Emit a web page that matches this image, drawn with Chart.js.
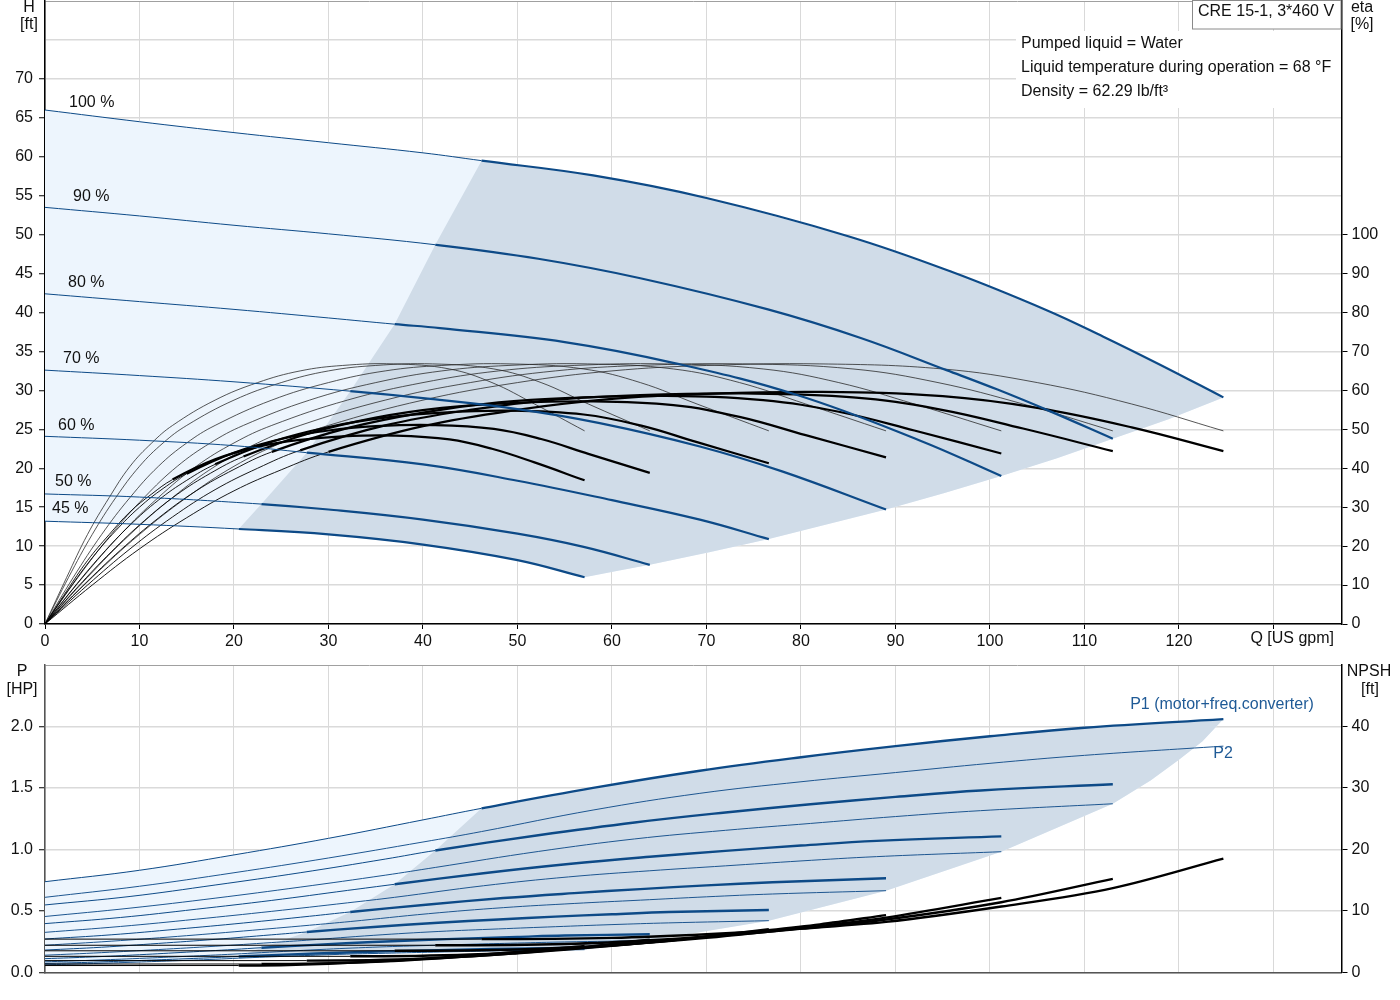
<!DOCTYPE html>
<html>
<head>
<meta charset="utf-8">
<script src="https://cdn.jsdelivr.net/npm/chart.js@4/dist/chart.umd.min.js"></script>
<style>
  body { margin: 0; background: #fff; width: 1400px; height: 1000px; overflow: hidden; position: relative; }
  canvas { position: absolute; left: 0; }
  #top { top: 0; width: 1400px; height: 650px; }
  #bot { top: 650px; width: 1400px; height: 350px; }
</style>
</head>
<body>
<canvas id="top" width="1400" height="650"></canvas>
<canvas id="bot" width="1400" height="350"></canvas>
<script>
// speed curves, 100 % down to 45 %
const speedLabels = ['100 %', '90 %', '80 %', '70 %', '60 %', '50 %', '45 %'];
// flow where each speed curve enters the dark operating area
const qEnter = [46.2, 41.3, 37, 32.3, 27.7, 22.9, 20.5];

// QH curves [Q gpm, H ft]
const qh100 = [[0,66],[10,64.5],[20,63.1],[30,61.8],[40,60.5],[46.2,59.5],[58,57.6],[70,54.7],[85,49.8],[96,45.2],[106,40.3],[112,36.9],[118,33.3],[124.7,29.1]];
const qh90 = [[0,53.5],[10,52.4],[20,51.2],[30,50.1],[41.3,48.7],[52.2,46.9],[63,44.4],[76.5,40.4],[86.4,36.7],[95.4,32.6],[100.8,30.1],[106.2,27.4],[113,23.8]];
const qh80 = [[0,42.4],[10,41.4],[20,40.4],[30,39.3],[37,38.5],[41.8,38],[55,36.2],[66.6,33.5],[79.6,29.4],[92.5,23.6],[101.2,19.0]];
const qh70 = [[0,32.6],[10,31.9],[20,31.1],[32.3,29.9],[40,29],[50,27.6],[58.7,25.8],[69.3,22.8],[78,19.6],[89,14.7]];
const qh60 = [[0,24.1],[10,23.6],[20,22.9],[27.7,22.0],[40,20.5],[50,18.4],[60,15.9],[69.3,13.4],[76.6,10.9]];
const qh50 = [[0,16.7],[10,16.3],[22.9,15.4],[30,14.7],[40,13.4],[50,11.6],[57,9.9],[64,7.6]];
const qh45 = [[0,13.2],[10,12.8],[20.5,12.2],[30,11.5],[40,10.2],[50,8.2],[57.1,6.0]];

// edges of the operating area in the QH panel
const limitLeftH = [[20.5,12.2],[22.9,15.4],[27.7,22.0],[32.3,29.9],[37,38.5],[41.3,48.7],[46.2,59.5]];
const limitRightH = [[57.1,6.0],[60.5,6.8],[64,7.6],[70.3,9.2],[76.6,10.9],[82.8,12.8],[89,14.7],[95.1,16.8],[101.2,19.0],[107.1,21.3],[113,23.8],[118.9,26.3],[124.7,29.1]];

// efficiency curves, Q points per speed
const qEta100 = [0,5,10,15,20,25,30,40,50,60,70,82,95,105,115,124.7];
const qEta90 = [0,4.5,9,13.5,18,22.5,27,36,45,54,63,73.8,85.5,94.5,103.5,113];
const qEta80 = [0,4,8,12,16,20,24,32,40,48,56,65.6,76,84,92,101.2];
const qEta70 = [0,3.5,7,10.5,14,17.5,21,28,35,42,49,57.4,66.5,73.5,80.5,89];
const qEta60 = [0,3,6,9,12,15,18,24,30,36,42,49.2,57,63,69,76.6];
const qEta50 = [0,2.5,5,7.5,10,12.5,15,20,25,30,35,41,47.5,52.5,57.5,64];
const qEta45 = [0,2.3,4.5,6.8,9,11.3,13.5,18,22.5,27,31.5,36.9,42.8,47.3,51.8,57.1];
// pump efficiency [%] (thin)
const etaPump = [0,12,23,32.5,40.5,46.5,51,57.5,62,65,66.4,66.8,65.5,62,56.5,49.6];
// total efficiency [%] (thick)
const etaTot100 = [0,10,19.3,27.3,34.2,39.6,44.2,50.8,55,57.8,59.1,59.6,58.5,55.5,50.5,44.4];
const etaTot90 = [0,10,19.3,27.5,34.5,40,44.6,51,55,57.6,58.8,59.2,58.2,55.2,50.2,44.4];
const etaTot80 = [0,9.8,19,27.2,34.2,39.7,44.2,50.3,54.3,56.9,58.1,58.6,57.5,54.5,49.7,43.8];
const etaTot70 = [0,9.6,18.5,26.5,33.3,38.7,43,49,53,55.5,56.7,57.2,56.2,53.2,48.5,42.8];
const etaTot60 = [0,9.2,17.8,25.4,31.8,36.9,41,46.8,50.6,53,54.3,54.8,53.8,51,46.7,41.3];
const etaTot50 = [0,8.8,17,24,30,34.8,38.6,44,47.5,49.7,50.8,51.1,50.1,47.5,43.7,38.8];
const etaTot45 = [0,8.5,16.3,23,28.8,33.4,37.1,42.3,45.5,47.3,48.2,48.4,47.4,45,41.5,36.9];

// power curves, Q points per speed
const qP100 = [0,10,20,30,40,46.2,58,69.3,80,90,100,110,124.7];
const qP90 = [0,9,18,27,36,41.3,52.2,62.4,72,81,90,99,113];
const qP80 = [0,8,16,24,32,37,46.4,55.4,64,72,80,88,101.2];
const qP70 = [0,7,14,21,28,32.3,40.6,48.5,56,63,70,77,89];
const qP60 = [0,6,12,18,24,27.7,34.8,41.6,48,54,60,66,76.6];
const qP50 = [0,5,10,15,20,22.9,29,34.7,40,45,50,55,64];
const qP45 = [0,4.5,9,13.5,18,20.5,26.1,31.2,36,40.5,45,49.5,57.1];
// P1 (motor + freq. converter) [HP]
const p1_100 = [0.737,0.83,0.955,1.09,1.24,1.334,1.5,1.64,1.75,1.84,1.92,1.99,2.06];
const p1_90 = [0.548,0.617,0.71,0.81,0.921,0.991,1.115,1.219,1.30,1.367,1.427,1.479,1.53];
const p1_80 = [0.396,0.446,0.513,0.585,0.666,0.716,0.806,0.881,0.94,0.988,1.031,1.069,1.106];
const p1_70 = [0.271,0.305,0.351,0.401,0.456,0.491,0.552,0.604,0.644,0.677,0.707,0.732,0.765];
const p1_60 = [0.181,0.204,0.235,0.268,0.305,0.328,0.369,0.403,0.43,0.453,0.472,0.49,0.507];
const p1_50 = [0.111,0.125,0.143,0.164,0.186,0.2,0.225,0.246,0.263,0.276,0.288,0.299,0.309];
const p1_45 = [0.072,0.081,0.093,0.106,0.12,0.129,0.146,0.159,0.17,0.178,0.186,0.193,0.2];
// P2 (shaft) [HP]
const p2_100 = [0.61,0.70,0.81,0.93,1.06,1.145,1.32,1.456,1.55,1.625,1.70,1.765,1.84];
const p2_90 = [0.454,0.522,0.603,0.693,0.79,0.853,0.983,1.085,1.155,1.211,1.267,1.315,1.371];
const p2_80 = [0.325,0.373,0.432,0.496,0.565,0.61,0.704,0.776,0.826,0.866,0.906,0.941,0.981];
const p2_70 = [0.22,0.253,0.292,0.336,0.383,0.413,0.477,0.526,0.56,0.587,0.614,0.637,0.664];
const p2_60 = [0.139,0.16,0.185,0.212,0.242,0.261,0.301,0.332,0.353,0.371,0.388,0.402,0.42];
const p2_50 = [0.085,0.098,0.113,0.13,0.148,0.16,0.185,0.204,0.217,0.228,0.238,0.247,0.258];
const p2_45 = [0.061,0.07,0.081,0.093,0.106,0.115,0.132,0.146,0.155,0.163,0.17,0.177,0.184];

// NPSH [ft]
const npsh100 = [[0,5.4],[46.2,5.4],[60,5.6],[70,6.2],[80,7.1],[89,8.2],[101.2,10.7],[113,13.7],[124.7,18.5]];
const npsh90 = [[0,4.4],[41.3,4.4],[55,4.6],[65,5.3],[75,6.4],[89,8.6],[101.2,11.4],[113,15.2]];
const npsh80 = [[0,3.5],[37,3.5],[50,3.7],[60,4.4],[70,5.6],[80,7.2],[89,8.9],[101.2,12.1]];
const npsh70 = [[0,2.6],[32.3,2.6],[45,2.9],[55,3.8],[65,5.0],[75,6.6],[82,7.8],[89,9.3]];
const npsh60 = [[0,1.9],[27.7,1.9],[40,2.2],[50,3.1],[60,4.3],[68,5.5],[76.6,7.0]];
const npsh50 = [[0,1.35],[22.9,1.35],[35,1.7],[45,2.6],[55,3.8],[64,5.3]];
const npsh45 = [[0,1.1],[20.5,1.1],[30,1.4],[40,2.2],[50,3.3],[57.1,4.3]];

// edges of the operating area in the power panel
const limitLeftP = [[20.5,0.129],[22.9,0.2],[27.7,0.328],[32.3,0.491],[37,0.716],[41.3,0.991],[46.2,1.334]];
const limitRightP = [[57.1,0.184],[64,0.258],[76.6,0.42],[89,0.664],[101.2,0.981],[113,1.371],[117,1.56],[120,1.73],[122.5,1.88],[124.7,2.06]];

const BLUE = '#0d4a87';
const LIGHT = '#edf5fd';
const DARK = '#d0dce8';
const FONT = '"Liberation Sans", Arial, sans-serif';

Chart.defaults.font.family = FONT;
Chart.defaults.font.size = 16;
Chart.defaults.color = '#111';

const xy = p => ({ x: p[0], y: p[1] });
const zip = (xs, ys) => xs.map((x, i) => [x, ys[i]]);

function poly(points, color, order) {
  return { data: points.map(xy), yAxisID: 'y', fill: 'shape', backgroundColor: color,
    borderWidth: 0, pointRadius: 0, tension: 0, order: order };
}

function curve(points, yAxisID, o) {
  const from = o.from === undefined ? Infinity : o.from;
  const ds = {
    data: points.map(xy), yAxisID: yAxisID, fill: false,
    borderColor: o.color, borderWidth: o.thin, pointRadius: 0,
    tension: 0.4, order: o.order || 1,
    segment: {
      borderWidth: c => points[c.p0DataIndex][0] >= from - 0.01 ? o.thick : o.thin
    }
  };
  if (o.monotone) ds.cubicInterpolationMode = 'monotone';
  return ds;
}

function fixed(size, vertical) {
  return s => {
    if (vertical) { s.width = size; s.paddingTop = 0; s.paddingBottom = 0; }
    else { s.height = size; s.paddingLeft = 0; s.paddingRight = 0; }
  };
}

function text(ctx, str, x, y, align, color) {
  ctx.fillStyle = color || '#111';
  ctx.textAlign = align || 'left';
  ctx.textBaseline = 'middle';
  ctx.fillText(str, x, y);
}

// ---------- top panel: H and eta ----------
const qhCurves = [qh100, qh90, qh80, qh70, qh60, qh50, qh45];
const qEtas = [qEta100, qEta90, qEta80, qEta70, qEta60, qEta50, qEta45];
const etaTots = [etaTot100, etaTot90, etaTot80, etaTot70, etaTot60, etaTot50, etaTot45];

const topSets = [];
topSets.push(poly(qh100.concat(limitRightH.slice().reverse().filter(p => p[0] < 124.7),
  qh45.slice().reverse().filter(p => p[0] < 57.1)), LIGHT, 30));
topSets.push(poly(limitLeftH.concat(qh100.filter(p => p[0] > 46.2),
  limitRightH.slice().reverse().filter(p => p[0] < 124.7),
  qh45.slice().reverse().filter(p => p[0] > 20.5 && p[0] < 57.1)), DARK, 29));
for (let i = 0; i < 7; i++) {
  topSets.push(curve(zip(qEtas[i], etaPump), 'yE', { color: '#2b2b2b', thin: 0.8, thick: 0.8, order: 5 }));
  topSets.push(curve(zip(qEtas[i], etaTots[i]), 'yE', { color: '#000', thin: 0.9, thick: 2.2, from: qEtas[i][6], order: 4 }));
  topSets.push(curve(qhCurves[i], 'y', { color: BLUE, thin: 1, thick: 2.2, from: qEnter[i], order: 2 }));
}

const topLabels = {
  id: 'topLabels',
  afterDraw(chart) {
    const ctx = chart.ctx;
    ctx.save();
    ctx.font = '16px ' + FONT;
    // info box
    ctx.fillStyle = '#fff';
    ctx.fillRect(1016, 31, 1341 - 1016, 77);
    text(ctx, 'Pumped liquid = Water', 1021, 44);
    text(ctx, 'Liquid temperature during operation = 68 °F', 1021, 68);
    text(ctx, 'Density = 62.29 lb/ft³', 1021, 92);
    ctx.fillStyle = '#fff';
    ctx.fillRect(1193, 0, 148, 29);
    ctx.strokeStyle = '#8a8a8a';
    ctx.lineWidth = 1;
    ctx.strokeRect(1192.5, 0.5, 148.5, 28.5);
    text(ctx, 'CRE 15-1, 3*460 V', 1198, 12);
    // axis titles
    text(ctx, 'H', 29, 8, 'center');
    text(ctx, '[ft]', 29, 25, 'center');
    text(ctx, 'eta', 1362, 8, 'center');
    text(ctx, '[%]', 1362, 25, 'center');
    text(ctx, 'Q [US gpm]', 1334, 639, 'right');
    // speed labels
    const pos = [[69, 103], [73, 197], [68, 283], [63, 359], [58, 426], [55, 482], [52, 509]];
    speedLabels.forEach((s, i) => text(ctx, s, pos[i][0], pos[i][1]));
    ctx.restore();
  }
};

new Chart(document.getElementById('top'), {
  type: 'line',
  data: { datasets: topSets },
  options: {
    responsive: false, animation: false, devicePixelRatio: 1,
    layout: { padding: { top: 1, left: 0, right: 0, bottom: 0 } },
    plugins: { legend: { display: false }, tooltip: { enabled: false } },
    scales: {
      x: {
        type: 'linear', min: 0, max: 137.2, afterFit: fixed(26, false),
        ticks: { stepSize: 10, includeBounds: false, padding: 3, color: '#111',
          callback: v => v <= 120 ? v : '' },
        grid: { color: '#d9d9d9', lineWidth: 1, tickLength: 5, tickColor: '#000' },
        border: { color: '#000', width: 1.5 }
      },
      y: {
        type: 'linear', position: 'left', min: 0, max: 80, afterFit: fixed(45, true),
        ticks: { stepSize: 5, padding: 6, color: '#111', callback: v => v <= 70 ? v : '' },
        grid: {
          color: c => c.tick && c.tick.value === 80 ? '#a0a0a0' : '#dadada',
          lineWidth: c => c.tick && c.tick.value === 80 ? 1 : 1.5,
          tickLength: 6, tickWidth: 1,
          tickColor: c => c.tick && c.tick.value > 70 ? 'rgba(0,0,0,0)' : '#000'
        },
        border: { color: '#000', width: 1.5 }
      },
      yE: {
        type: 'linear', position: 'right', min: 0, max: 160, afterFit: fixed(58.5, true),
        ticks: { stepSize: 10, padding: 4, color: '#111', callback: v => v <= 100 ? v : '' },
        grid: {
          drawOnChartArea: false, tickLength: 6, tickWidth: 1,
          tickColor: c => c.tick && c.tick.value > 100 ? 'rgba(0,0,0,0)' : '#000'
        },
        border: { color: '#000', width: 1.5 }
      }
    }
  },
  plugins: [topLabels]
});

// ---------- bottom panel: P and NPSH ----------
const qPs = [qP100, qP90, qP80, qP70, qP60, qP50, qP45];
const p1s = [p1_100, p1_90, p1_80, p1_70, p1_60, p1_50, p1_45];
const p2s = [p2_100, p2_90, p2_80, p2_70, p2_60, p2_50, p2_45];
const npshs = [npsh100, npsh90, npsh80, npsh70, npsh60, npsh50, npsh45];

const p1Top = zip(qP100, p1_100);
const p2Low = zip(qP45, p2_45);
const botSets = [];
botSets.push(poly(p1Top.concat(limitRightP.slice().reverse().filter(p => p[0] < 124.7),
  p2Low.slice().reverse().filter(p => p[0] < 57.1)), LIGHT, 30));
botSets.push(poly(limitLeftP.concat(p1Top.filter(p => p[0] > 46.2),
  limitRightP.slice().reverse().filter(p => p[0] < 124.7),
  p2Low.slice().reverse().filter(p => p[0] >= 20.5 && p[0] < 57.1)), DARK, 29));
for (let i = 0; i < 7; i++) {
  botSets.push(curve(zip(qPs[i], p2s[i]), 'y', { color: '#1d5690', thin: 1, thick: 1, order: 3 }));
  botSets.push(curve(zip(qPs[i], p1s[i]), 'y', { color: BLUE, thin: 1, thick: 2.4, from: qEnter[i], order: 2 }));
  botSets.push(curve(npshs[i], 'yN', { color: '#000', thin: 1, thick: 2.4, from: qEnter[i], order: 1, monotone: true }));
}

const botLabels = {
  id: 'botLabels',
  afterDraw(chart) {
    const ctx = chart.ctx;
    ctx.save();
    ctx.font = '16px ' + FONT;
    text(ctx, 'P', 22, 22, 'center');
    text(ctx, '[HP]', 22, 40, 'center');
    text(ctx, 'NPSH', 1369, 22, 'center');
    text(ctx, '[ft]', 1370, 40, 'center');
    text(ctx, 'P1 (motor+freq.converter)', 1222, 55, 'center', '#1f5a96');
    text(ctx, 'P2', 1223, 104, 'center', '#1f5a96');
    ctx.restore();
  }
};

new Chart(document.getElementById('bot'), {
  type: 'line',
  data: { datasets: botSets },
  options: {
    responsive: false, animation: false, devicePixelRatio: 1,
    layout: { padding: { top: 15, left: 0, right: 0, bottom: 0 } },
    plugins: { legend: { display: false }, tooltip: { enabled: false } },
    scales: {
      x: {
        type: 'linear', min: 0, max: 137.2, afterFit: fixed(27.7, false),
        ticks: { display: false, stepSize: 10, includeBounds: false },
        grid: { color: '#d9d9d9', lineWidth: 1, drawTicks: false },
        border: { color: '#555', width: 1.5 }
      },
      y: {
        type: 'linear', position: 'left', min: 0, max: 2.5, afterFit: fixed(45, true),
        ticks: { stepSize: 0.5, padding: 6, color: '#111',
          callback: v => v > 2.25 ? '' : v.toFixed(1) },
        grid: {
          color: c => c.tick && c.tick.value === 2.5 ? '#a0a0a0' : '#dadada',
          lineWidth: c => c.tick && c.tick.value === 2.5 ? 1 : 1.5,
          tickLength: 6, tickWidth: 1,
          tickColor: c => c.tick && c.tick.value > 2.25 ? 'rgba(0,0,0,0)' : '#000'
        },
        border: { color: '#555', width: 1.5 }
      },
      yN: {
        type: 'linear', position: 'right', min: 0, max: 50, afterFit: fixed(58.5, true),
        ticks: { stepSize: 10, padding: 4, color: '#111', callback: v => v <= 40 ? v : '' },
        grid: {
          drawOnChartArea: false, tickLength: 6, tickWidth: 1,
          tickColor: c => c.tick && c.tick.value > 40 ? 'rgba(0,0,0,0)' : '#000'
        },
        border: { color: '#000', width: 1.5 }
      }
    }
  },
  plugins: [botLabels]
});
</script>
</body>
</html>
